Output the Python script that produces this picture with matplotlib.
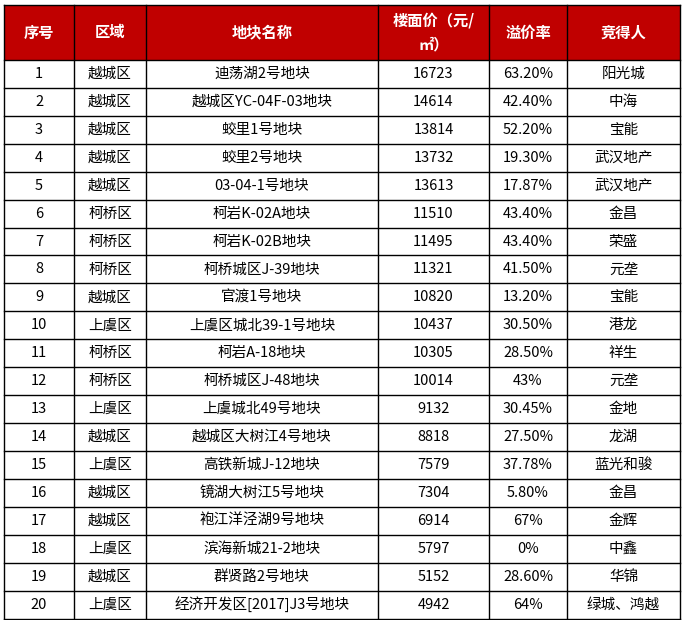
import matplotlib
matplotlib.use("Agg")
import matplotlib.pyplot as plt
from matplotlib.patches import Rectangle

plt.rcParams['font.family'] = ['Noto Sans CJK SC', 'DejaVu Sans']

headers = ["序号", "区域", "地块名称", "楼面价（元/\n㎡）", "溢价率", "竞得人"]
ids = [str(i) for i in range(1, 21)]
districts = ["越城区","越城区","越城区","越城区","越城区","柯桥区","柯桥区","柯桥区","越城区","上虞区",
             "柯桥区","柯桥区","上虞区","越城区","上虞区","越城区","越城区","上虞区","越城区","上虞区"]
plots = ["迪荡湖2号地块","越城区YC-04F-03地块","蛟里1号地块","蛟里2号地块","03-04-1号地块",
         "柯岩K-02A地块","柯岩K-02B地块","柯桥城区J-39地块","官渡1号地块","上虞区城北39-1号地块",
         "柯岩A-18地块","柯桥城区J-48地块","上虞城北49号地块","越城区大树江4号地块","高铁新城J-12地块",
         "镜湖大树江5号地块","袍江洋泾湖9号地块","滨海新城21-2地块","群贤路2号地块","经济开发区[2017]J3号地块"]
prices = [16723,14614,13814,13732,13613,11510,11495,11321,10820,10437,
          10305,10014,9132,8818,7579,7304,6914,5797,5152,4942]
premiums = ["63.20%","42.40%","52.20%","19.30%","17.87%","43.40%","43.40%","41.50%","13.20%","30.50%",
            "28.50%","43%","30.45%","27.50%","37.78%","5.80%","67%","0%","28.60%","64%"]
winners = ["阳光城","中海","宝能","武汉地产","武汉地产","金昌","荣盛","元垄","宝能","港龙",
           "祥生","元垄","金地","龙湖","蓝光和骏","金昌","金辉","中鑫","华锦","绿城、鸿越"]

W, H = 683, 620
fig = plt.figure(figsize=(W/100, H/100), dpi=100)
ax = fig.add_axes([0, 0, 1, 1])
ax.set_xlim(0, W); ax.set_ylim(H, 0); ax.axis('off')

cols = [4, 74, 146, 378, 489, 567, 680]
top, hb = 5, 60
n = len(ids)
rh = (618.5 - hb) / n
bottom = hb + n * rh

ax.add_patch(Rectangle((cols[0], top), cols[-1]-cols[0], hb-top, facecolor='#C00000', edgecolor='none'))
for j, h in enumerate(headers):
    ax.text((cols[j]+cols[j+1])/2, (top+hb)/2, h, color='white', fontsize=11, fontweight='bold',
            ha='center', va='center', linespacing=1.6)

rows = list(zip(ids, districts, plots, [str(p) for p in prices], premiums, winners))
for i, r in enumerate(rows):
    yc = hb + i*rh + rh/2
    for j, v in enumerate(r):
        ax.text((cols[j]+cols[j+1])/2, yc, v, color='black', fontsize=10.5, ha='center', va='center')

for x in cols:
    ax.plot([x, x], [top, bottom], color='black', lw=1)
ax.plot([cols[0], cols[-1]], [top, top], color='black', lw=1)
for i in range(n+1):
    y = hb + i*rh
    ax.plot([cols[0], cols[-1]], [y, y], color='black', lw=1)

fig.savefig("out.png", dpi=100)
